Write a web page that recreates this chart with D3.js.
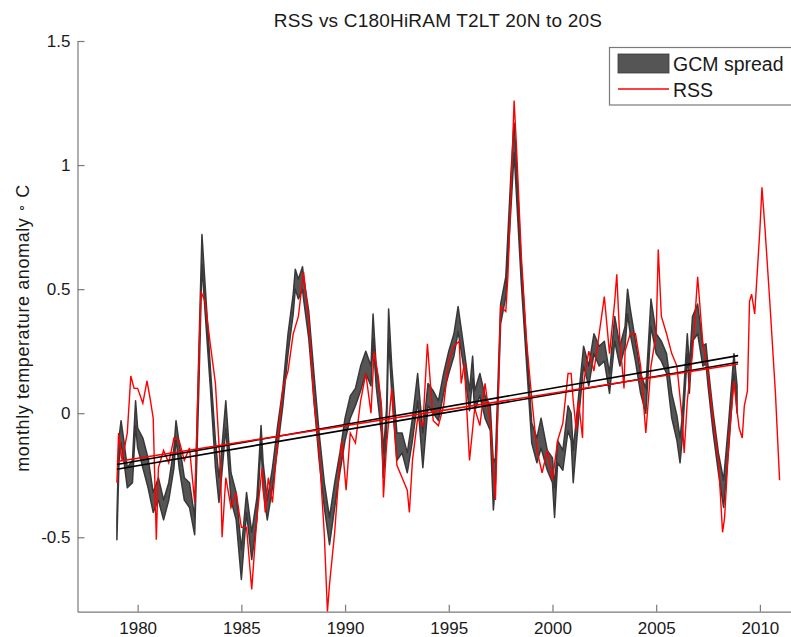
<!DOCTYPE html>
<html>
<head>
<meta charset="utf-8">
<script src="https://cdn.jsdelivr.net/npm/d3@7"></script>
<style>
  body { margin: 0; background: #fff; }
  text { font-family: "Liberation Sans", Arial, Helvetica, sans-serif; fill: #1a1a1a; }
</style>
</head>
<body>
<div id="chart"></div>
<script>
// RSS monthly anomaly (year, value)
var rssYears = [1979.0,1979.08,1979.25,1979.5,1979.67,1979.83,1980.0,1980.25,1980.45,1980.6,1980.75,1980.9,1981.0,1981.25,1981.5,1981.75,1982.0,1982.25,1982.5,1982.75,1982.95,1983.05,1983.25,1983.5,1983.75,1984.0,1984.07,1984.25,1984.5,1984.75,1985.0,1985.25,1985.5,1985.75,1986.0,1986.15,1986.3,1986.5,1986.75,1987.0,1987.25,1987.5,1987.75,1988.0,1988.25,1988.5,1988.75,1989.0,1989.15,1989.25,1989.5,1989.75,1989.85,1990.05,1990.25,1990.5,1990.75,1991.0,1991.25,1991.4,1991.6,1991.75,1991.85,1992.0,1992.25,1992.5,1992.75,1993.0,1993.1,1993.25,1993.5,1993.75,1993.97,1994.25,1994.5,1994.75,1995.0,1995.25,1995.5,1995.6,1995.75,1996.0,1996.25,1996.5,1996.75,1997.0,1997.25,1997.5,1997.75,1997.85,1998.0,1998.15,1998.25,1998.5,1998.75,1999.0,1999.25,1999.5,1999.75,2000.0,2000.25,2000.5,2000.75,2000.9,2001.0,2001.15,2001.25,2001.45,2001.5,2001.75,2002.0,2002.25,2002.5,2002.75,2003.0,2003.1,2003.25,2003.45,2003.5,2003.75,2004.0,2004.25,2004.5,2004.75,2005.0,2005.1,2005.25,2005.5,2005.75,2006.0,2006.25,2006.35,2006.5,2006.75,2007.0,2007.25,2007.4,2007.5,2007.75,2008.0,2008.2,2008.3,2008.5,2008.75,2008.9,2009.0,2009.15,2009.25,2009.4,2009.5,2009.6,2009.75,2010.0,2010.1,2010.25,2010.5,2010.75,2010.95];
var rssValues = [-0.28,-0.08,-0.19,-0.08,0.15,0.1,0.1,0.04,0.13,0.06,-0.02,-0.51,-0.22,-0.15,-0.2,-0.1,-0.11,-0.19,-0.14,-0.36,0.2,0.49,0.45,0.28,0.12,-0.24,-0.5,-0.26,-0.38,-0.32,-0.46,-0.46,-0.71,-0.42,-0.22,-0.4,-0.26,-0.36,-0.11,0.1,0.17,0.32,0.39,0.57,0.37,0.05,-0.15,-0.49,-0.8,-0.69,-0.48,-0.19,-0.11,-0.31,-0.08,-0.12,0.05,0.16,0.0,0.25,0.15,0.03,-0.34,-0.13,0.1,-0.21,-0.26,-0.31,-0.4,-0.19,-0.02,-0.05,0.28,-0.03,-0.05,0.03,0.21,0.27,0.29,0.12,0.2,-0.19,0.02,-0.05,0.12,-0.04,-0.35,0.43,0.41,0.55,0.9,1.26,1.1,0.63,0.29,0.06,-0.15,-0.24,-0.15,-0.27,-0.11,-0.04,0.16,0.16,0.05,-0.07,0.05,-0.1,0.12,0.25,0.17,0.32,0.47,0.24,0.45,0.56,0.29,0.1,0.25,0.32,0.32,0.19,-0.08,0.19,0.32,0.66,0.39,0.32,0.24,0.19,-0.02,-0.16,0.05,0.24,0.55,0.28,0.21,0.16,-0.03,-0.19,-0.48,-0.42,-0.12,0.13,0.01,-0.06,-0.1,0.03,0.09,0.45,0.48,0.4,0.74,0.91,0.74,0.42,0.08,-0.27];

// GCM ensemble spread: lower and upper edge
var gcmYears = [1979.0,1979.1,1979.2,1979.35,1979.5,1979.75,1979.9,1980.0,1980.25,1980.5,1980.75,1981.0,1981.25,1981.5,1981.75,1981.85,1982.0,1982.25,1982.5,1982.75,1982.95,1983.1,1983.25,1983.5,1983.75,1983.92,1984.0,1984.25,1984.5,1984.75,1985.0,1985.25,1985.5,1985.75,1985.95,1986.05,1986.25,1986.5,1986.75,1987.0,1987.25,1987.5,1987.6,1987.75,1987.95,1988.0,1988.25,1988.5,1988.75,1989.0,1989.25,1989.5,1989.75,1990.0,1990.25,1990.5,1990.75,1991.0,1991.25,1991.35,1991.5,1991.75,1991.85,1992.0,1992.1,1992.25,1992.5,1992.75,1993.0,1993.25,1993.5,1993.75,1994.0,1994.25,1994.5,1994.75,1995.0,1995.25,1995.45,1995.75,1996.0,1996.15,1996.25,1996.5,1996.75,1997.0,1997.15,1997.25,1997.5,1997.75,1998.0,1998.15,1998.25,1998.5,1998.75,1999.0,1999.25,1999.45,1999.75,2000.0,2000.1,2000.25,2000.5,2000.75,2000.9,2001.0,2001.25,2001.5,2001.75,2002.0,2002.25,2002.5,2002.75,2003.0,2003.25,2003.5,2003.62,2003.75,2004.0,2004.25,2004.5,2004.75,2005.0,2005.25,2005.5,2005.75,2006.0,2006.15,2006.25,2006.5,2006.6,2006.75,2007.0,2007.25,2007.4,2007.5,2007.75,2008.0,2008.25,2008.5,2008.75,2008.9];
var gcmLow = [-0.51,-0.2,-0.12,-0.2,-0.3,-0.28,-0.05,-0.14,-0.22,-0.3,-0.4,-0.35,-0.43,-0.35,-0.22,-0.1,-0.22,-0.35,-0.38,-0.49,0.1,0.6,0.41,0.11,-0.22,-0.36,-0.3,-0.06,-0.35,-0.43,-0.67,-0.4,-0.59,-0.43,-0.12,-0.31,-0.43,-0.3,-0.14,0.03,0.24,0.4,0.5,0.46,0.5,0.46,0.3,0.05,-0.19,-0.38,-0.53,-0.38,-0.24,-0.11,-0.02,0.03,0.09,0.16,0.11,0.3,0.11,-0.08,-0.26,-0.08,0.3,0.08,-0.19,-0.16,-0.24,-0.11,0.05,-0.22,0.03,0.0,-0.03,0.08,0.16,0.23,0.33,0.17,0.01,0.14,0.01,0.07,-0.02,-0.07,-0.39,-0.28,0.36,0.47,0.83,1.05,0.9,0.52,0.2,-0.12,-0.2,-0.14,-0.23,-0.28,-0.42,-0.2,-0.23,-0.07,-0.11,-0.28,-0.03,0.19,0.11,0.24,0.19,0.21,0.08,0.29,0.19,0.27,0.4,0.32,0.21,0.08,0.0,0.35,0.24,0.21,0.16,-0.02,-0.11,-0.2,-0.11,0.24,0.08,0.29,0.32,0.19,0.2,0.11,-0.08,-0.24,-0.38,-0.14,0.16,0.0];
var gcmHigh = [-0.42,-0.1,-0.03,-0.12,-0.22,-0.19,0.05,-0.06,-0.1,-0.18,-0.32,-0.26,-0.35,-0.28,-0.14,-0.03,-0.12,-0.26,-0.28,-0.42,0.25,0.72,0.52,0.19,-0.11,-0.26,-0.2,0.05,-0.24,-0.32,-0.55,-0.32,-0.48,-0.34,-0.05,-0.2,-0.35,-0.22,-0.05,0.1,0.32,0.48,0.58,0.54,0.59,0.55,0.41,0.16,-0.08,-0.28,-0.42,-0.28,-0.16,-0.02,0.07,0.1,0.19,0.25,0.19,0.4,0.19,0.03,-0.16,0.02,0.42,0.19,-0.08,-0.08,-0.16,-0.02,0.16,-0.08,0.12,0.09,0.05,0.16,0.25,0.32,0.43,0.25,0.09,0.23,0.09,0.16,0.07,0.03,-0.2,-0.18,0.44,0.55,0.97,1.17,1.03,0.6,0.28,-0.04,-0.1,-0.02,-0.15,-0.18,-0.3,-0.11,-0.15,0.03,0.0,-0.15,0.06,0.27,0.19,0.32,0.27,0.29,0.16,0.39,0.27,0.35,0.5,0.42,0.29,0.16,0.1,0.46,0.32,0.29,0.24,0.08,-0.01,-0.1,-0.02,0.32,0.19,0.39,0.44,0.27,0.28,0.19,0.0,-0.16,-0.27,-0.03,0.24,0.11];

// linear trends 1979 - 2008.9 (start, end)
var trendYears = [1979.0, 2008.95];
var rssTrend = [-0.195, 0.198];
var gcmTrendHigh = [-0.207, 0.232];
var gcmTrendLow = [-0.226, 0.205];

var xTicks = [1980, 1985, 1990, 1995, 2000, 2005, 2010];
var yTicks = [-0.5, 0, 0.5, 1, 1.5];

var svgWidth = 791;
var svgHeight = 637;

var margin = {top: 41, right: 0, bottom: 25.3, left: 77.5};
var chartWidth = svgWidth - margin.left - margin.right;
var chartHeight = svgHeight - margin.top - margin.bottom;

var svg = d3.select("#chart").append("svg")
  .attr("width", svgWidth)
  .attr("height", svgHeight);

var chartGroup = svg.append("g")
  .attr("transform", `translate(${margin.left}, ${margin.top})`);

var xScale = d3.scaleLinear()
  .domain([1977.1, 2011.5])
  .range([0, chartWidth]);

var yScale = d3.scaleLinear()
  .domain([-0.8, 1.5])
  .range([chartHeight, 0]);

// gcm spread band
var gcmData = gcmYears.map((t, i) => ({t: t, lo: gcmLow[i], hi: gcmHigh[i]}));
var band = d3.area()
  .x(d => xScale(d.t))
  .y0(d => yScale(d.lo))
  .y1(d => yScale(d.hi));

chartGroup.append("path")
  .datum(gcmData)
  .attr("d", band)
  .attr("fill", "#555")
  .attr("stroke", "#383838")
  .attr("stroke-width", 1.5)
  .attr("stroke-linejoin", "round");

// RSS line
var rssData = rssYears.map((t, i) => ({t: t, v: rssValues[i]}));
var line = d3.line()
  .x(d => xScale(d.t))
  .y(d => yScale(d.v));

chartGroup.append("path")
  .datum(rssData)
  .attr("d", line)
  .attr("fill", "none")
  .attr("stroke", "#ff0000")
  .attr("stroke-width", 1.4);

// trend lines
function trendLine(vals, color) {
  var pts = trendYears.map((t, i) => ({t: t, v: vals[i]}));
  chartGroup.append("path")
    .datum(pts)
    .attr("d", line)
    .attr("fill", "none")
    .attr("stroke", color)
    .attr("stroke-width", 1.6);
}
trendLine(gcmTrendHigh, "#000");
trendLine(gcmTrendLow, "#000");
trendLine(rssTrend, "#f00");

// axes (matlab style, ticks inside, box off)
var bottomAxis = d3.axisBottom(xScale)
  .tickValues(xTicks)
  .tickFormat(d3.format("d"))
  .tickSizeInner(-7)
  .tickSizeOuter(0)
  .tickPadding(10);

var leftAxis = d3.axisLeft(yScale)
  .tickValues(yTicks)
  .tickFormat(d => String(d))
  .tickSizeInner(-7)
  .tickSizeOuter(0)
  .tickPadding(7);

var xAxisG = chartGroup.append("g")
  .attr("transform", `translate(0, ${chartHeight})`)
  .call(bottomAxis);

var yAxisG = chartGroup.append("g")
  .call(leftAxis);

[xAxisG, yAxisG].forEach(function(g) {
  g.select(".domain").attr("stroke", "#7a7a7a").attr("stroke-width", 1.2);
  g.selectAll(".tick line").attr("stroke", "#7a7a7a").attr("stroke-width", 1.2);
  g.selectAll(".tick text")
    .attr("fill", "#1a1a1a")
    .style("font-size", "17px")
    .style("font-family", "'Liberation Sans', Arial, sans-serif");
});

// title
svg.append("text")
  .attr("x", 438)
  .attr("y", 27)
  .attr("text-anchor", "middle")
  .style("font-size", "19px")
  .style("letter-spacing", "0.2px")
  .text("RSS vs C180HiRAM T2LT 20N to 20S");

// y label
var yLab = svg.append("text")
  .attr("transform", "translate(29, 328) rotate(-90)")
  .attr("text-anchor", "middle")
  .style("font-size", "18px")
  .style("letter-spacing", "0.6px");
yLab.append("tspan").text("monthly temperature anomaly ");
yLab.append("tspan").attr("dy", -4).style("font-size", "13px").text("\u2218");
yLab.append("tspan").attr("dy", 4).text(" C");

// legend
var legend = svg.append("g");
legend.append("rect")
  .attr("x", 609.5)
  .attr("y", 47.5)
  .attr("width", 200)
  .attr("height", 57.5)
  .attr("fill", "#fff")
  .attr("stroke", "#7a7a7a")
  .attr("stroke-width", 1.2);
legend.append("rect")
  .attr("x", 618)
  .attr("y", 54)
  .attr("width", 51)
  .attr("height", 19)
  .attr("fill", "#555")
  .attr("stroke", "#383838")
  .attr("stroke-width", 0.8);
legend.append("line")
  .attr("x1", 618).attr("x2", 669)
  .attr("y1", 89).attr("y2", 89)
  .attr("stroke", "#ff0000")
  .attr("stroke-width", 1.4);
legend.append("text")
  .attr("x", 673).attr("y", 71)
  .style("font-size", "19.5px")
  .text("GCM spread");
legend.append("text")
  .attr("x", 673).attr("y", 97)
  .style("font-size", "19.5px")
  .text("RSS");
</script>
</body>
</html>
